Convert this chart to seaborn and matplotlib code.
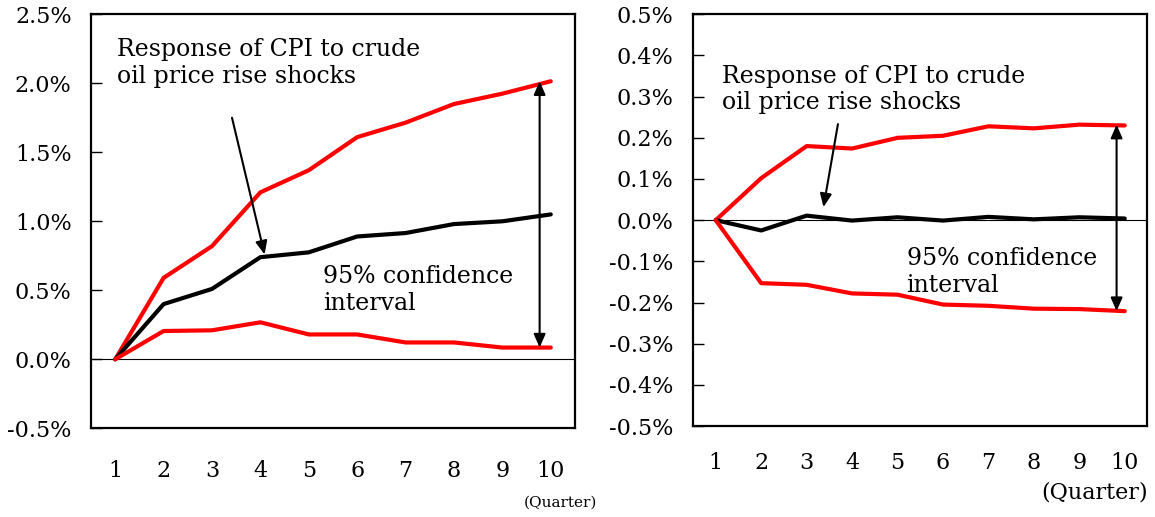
import matplotlib
matplotlib.use("Agg")
import matplotlib.pyplot as plt
import seaborn as sns
import pandas as pd

quarters = [1, 2, 3, 4, 5, 6, 7, 8, 9, 10]

left_upper = [0.0, 0.59, 0.82, 1.21, 1.37, 1.61, 1.715, 1.85, 1.925, 2.015]
left_mid = [0.0, 0.40, 0.51, 0.74, 0.775, 0.89, 0.915, 0.98, 1.00, 1.05]
left_lower = [0.0, 0.205, 0.21, 0.268, 0.18, 0.18, 0.122, 0.122, 0.085, 0.085]

right_upper = [0.0, 0.102, 0.18, 0.174, 0.20, 0.205, 0.228, 0.223, 0.232, 0.230]
right_mid = [0.0, -0.025, 0.011, -0.001, 0.007, -0.001, 0.008, 0.002, 0.007, 0.004]
right_lower = [0.0, -0.153, -0.157, -0.178, -0.181, -0.205, -0.208, -0.215, -0.216, -0.221]

left_yticks = [-0.5, 0.0, 0.5, 1.0, 1.5, 2.0, 2.5]
right_yticks = [-0.5, -0.4, -0.3, -0.2, -0.1, 0.0, 0.1, 0.2, 0.3, 0.4, 0.5]

label_response = "Response of CPI to crude\noil price rise shocks"
label_ci = "95% confidence\ninterval"
label_quarter = "(Quarter)"

sns.set_style("white")
plt.rcParams['font.family'] = ['DejaVu Serif']
plt.rcParams['text.color'] = 'black'
plt.rcParams['xtick.color'] = 'black'
plt.rcParams['ytick.color'] = 'black'
plt.rcParams['xtick.labelcolor'] = 'black'
plt.rcParams['ytick.labelcolor'] = 'black'

fig = plt.figure(figsize=(11.55, 5.17), dpi=100)
axL = fig.add_axes([0.0788, 0.1716, 0.4190, 0.8007])
axR = fig.add_axes([0.6000, 0.1760, 0.3935, 0.7963])

RED = "#ff0000"


def draw(ax, upper, mid, lower, yticks, ylim, dec, pad):
    df = pd.DataFrame({"q": quarters * 3,
                       "v": upper + mid + lower,
                       "s": ["u"] * 10 + ["m"] * 10 + ["l"] * 10})
    sns.lineplot(data=df, x="q", y="v", hue="s",
                 palette={"u": RED, "m": "black", "l": RED},
                 linewidth=3.0, legend=False, ax=ax, zorder=3)
    ax.axhline(0, color="black", linewidth=0.8, zorder=2)
    ax.set_xlim(0.5, 10.5)
    ax.set_ylim(*ylim)
    ax.set_yticks(yticks)
    ax.set_yticklabels([f"{t:.{dec}f}%" for t in yticks], fontsize=16)
    ax.set_xticks(quarters)
    ax.set_xticklabels([str(q) for q in quarters], fontsize=16)
    ax.tick_params(axis="y", direction="in", length=8, width=1, left=True,
                   pad=14, color="black")
    ax.tick_params(axis="x", length=0, pad=pad)
    ax.set_xlabel("")
    ax.set_ylabel("")
    for sp in ax.spines.values():
        sp.set_visible(True)
        sp.set_color("black")
        sp.set_linewidth(1.6)


draw(axL, left_upper, left_mid, left_lower, left_yticks, (-0.5, 2.5), 1, 23)
draw(axR, right_upper, right_mid, right_lower, right_yticks, (-0.5, 0.5), 1, 19)

arrow_kw = dict(arrowstyle="-|>,head_length=0.8,head_width=0.35", color="black", lw=1.5)
dbl_kw = dict(arrowstyle="<|-|>,head_length=0.8,head_width=0.35", color="black", lw=1.5,
              shrinkA=0, shrinkB=0)

# Left annotations
axL.text(0.5 + (117 - 91) / 48.4, 2.5 - (38 - 14.3) / 138, label_response,
         fontsize=17, va="top", ha="left", linespacing=1.2)
axL.annotate("", xy=(4.1, 0.74), xytext=(3.4, 1.77), arrowprops=arrow_kw)
axL.annotate("", xy=(9.77, 0.085), xytext=(9.77, 2.015), arrowprops=dbl_kw)
axL.text(5.3, 0.68, label_ci, fontsize=17, va="top", ha="left", linespacing=1.2)
fig.text(560 / 1155, 1 - 503 / 517, label_quarter, fontsize=11, ha="center", va="center")

# Right annotations
axR.text(1.14, 0.378, label_response, fontsize=17, va="top", ha="left", linespacing=1.2)
axR.annotate("", xy=(3.36, 0.025), xytext=(3.7, 0.24), arrowprops=arrow_kw)
axR.annotate("", xy=(9.82, -0.221), xytext=(9.82, 0.232), arrowprops=dbl_kw)
axR.text(5.2, -0.065, label_ci, fontsize=17, va="top", ha="left", linespacing=1.2)
fig.text(1095 / 1155, 1 - 492 / 517, label_quarter, fontsize=16, ha="center", va="center")

fig.savefig("out.png", dpi=100, facecolor="white")
